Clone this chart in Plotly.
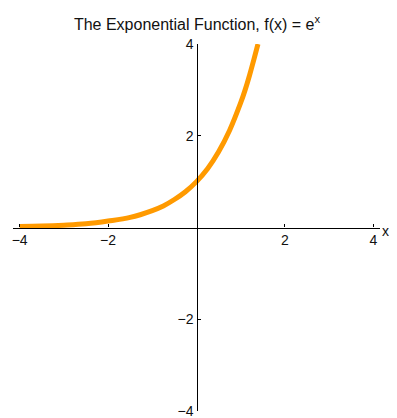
import plotly.graph_objects as go

# values
x_vals = [-4.0, -3.5, -3.0, -2.5, -2.0, -1.5, -1.0, -0.75, -0.5, -0.25, 0.0,
          0.25, 0.5, 0.75, 1.0, 1.1, 1.2, 1.3, 1.39]
y_vals = [0.02, 0.03, 0.05, 0.08, 0.14, 0.22, 0.37, 0.47, 0.61, 0.78, 1.0,
          1.28, 1.65, 2.12, 2.72, 3.0, 3.32, 3.67, 4.0]

x_ticks = [-4, -2, 2, 4]
y_ticks = [-4, -2, 2, 4]
title = "The Exponential Function, f(x) = e<sup>x</sup>"

# the page body adds an 8px margin, so the figure is 8px smaller
W, H = 389, 410

fig = go.Figure(go.Scatter(
    x=x_vals,
    y=y_vals,
    mode="lines",
    line=dict(color="#FF9A00", width=5, shape="spline"),
    hoverinfo="skip",
))

axis_style = dict(
    showline=True,
    linecolor="black",
    linewidth=1.3,
    ticks="inside",
    ticklen=3,
    tickwidth=1,
    tickcolor="black",
    showgrid=False,
    zeroline=False,
    anchor="free",
    position=0.5,
    automargin=False,
    ticklabeloverflow="allow",
    tickfont=dict(family="Liberation Sans, Arial", size=14, color="#111"),
)

fig.update_layout(
    width=W,
    height=H,
    margin=dict(l=5, r=17, t=36, b=7),
    paper_bgcolor="white",
    plot_bgcolor="white",
    showlegend=False,
    title=dict(
        text=title,
        x=(197 - 8) / W,
        xanchor="center",
        y=1 - 16 / H,
        yanchor="middle",
        font=dict(family="Liberation Sans, Arial", size=16, color="#111"),
    ),
    xaxis=dict(range=[-4.15, 4.15], tickvals=x_ticks, **axis_style),
    yaxis=dict(range=[-4, 4], tickvals=y_ticks, **axis_style),
)

# axis label at the right end of the horizontal axis
fig.add_annotation(
    text="x", x=4.0, y=0, xref="x", yref="y",
    xanchor="left", yanchor="middle", xshift=8, yshift=-3,
    showarrow=False, borderpad=0,
    font=dict(family="Liberation Sans, Arial", size=14, color="#111"),
)

fig.write_html("out.html")
